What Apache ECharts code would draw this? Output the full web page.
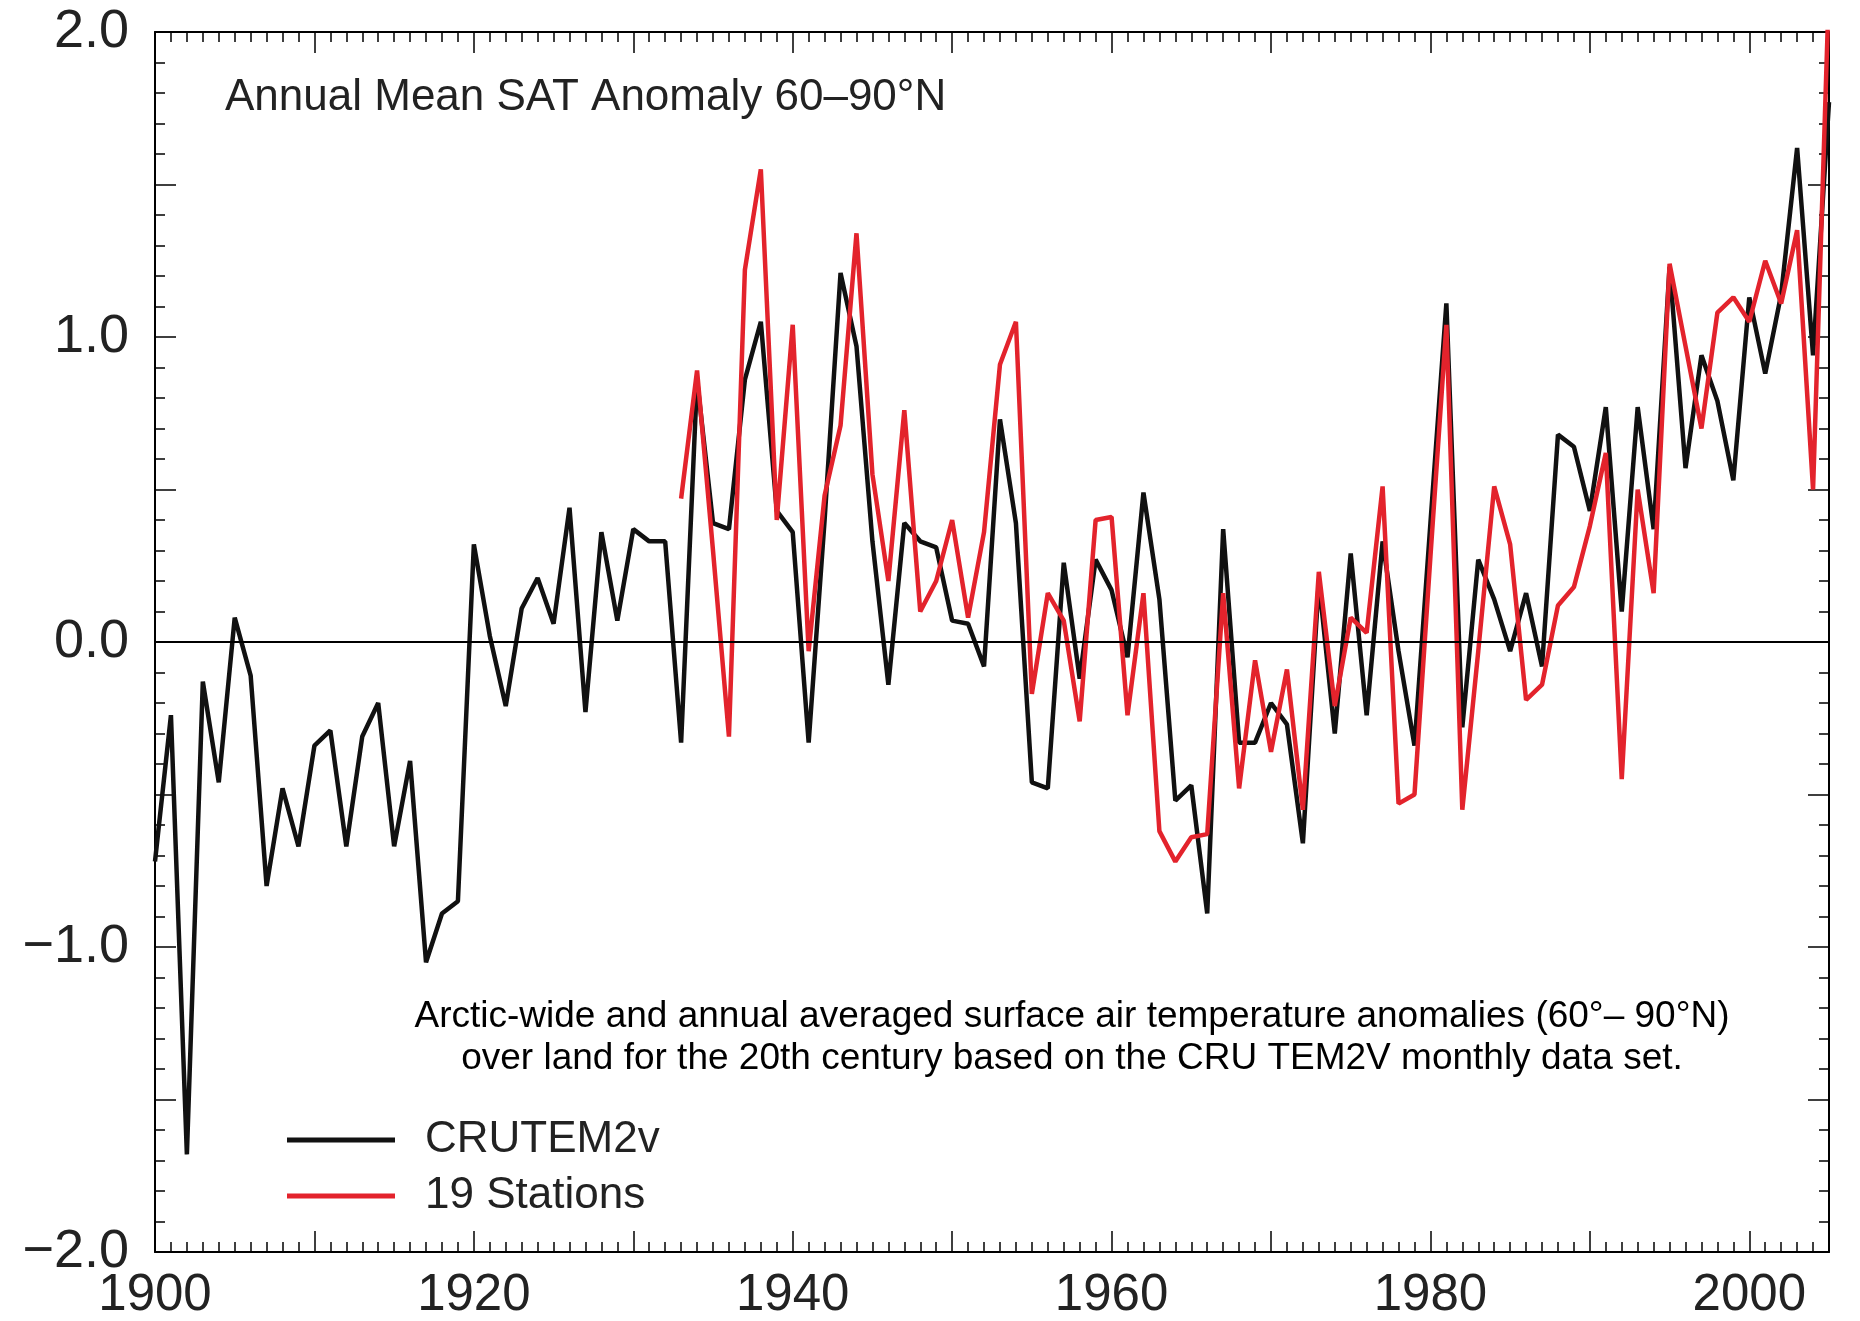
<!DOCTYPE html>
<html>
<head>
<meta charset="utf-8">
<script src="https://cdn.jsdelivr.net/npm/echarts/dist/echarts.min.js"></script>
<style>html,body{margin:0;padding:0;background:#fff;}#c{width:1860px;height:1321px;}</style>
</head>
<body>
<div id="c"></div>
<script>
const blackStartYear = 1900;
const crutem2v = [
  -0.72, -0.24, -1.68, -0.13, -0.46, 0.08, -0.11, -0.80, -0.48, -0.67,
  -0.34, -0.29, -0.67, -0.31, -0.20, -0.67, -0.39, -1.05, -0.89, -0.85,
  0.32, 0.02, -0.21, 0.11, 0.21, 0.06, 0.44, -0.23, 0.36, 0.07,
  0.37, 0.33, 0.33, -0.33, 0.86, 0.39, 0.37, 0.86, 1.05, 0.43,
  0.36, -0.33, 0.40, 1.21, 0.97, 0.33, -0.14, 0.39, 0.33, 0.31,
  0.07, 0.06, -0.08, 0.73, 0.39, -0.46, -0.48, 0.26, -0.12, 0.27,
  0.17, -0.05, 0.49, 0.14, -0.52, -0.47, -0.89, 0.37, -0.33, -0.33,
  -0.20, -0.27, -0.66, 0.20, -0.30, 0.29, -0.24, 0.33, -0.03, -0.34,
  0.39, 1.11, -0.28, 0.27, 0.14, -0.03, 0.16, -0.08, 0.68, 0.64,
  0.43, 0.77, 0.10, 0.77, 0.37, 1.23, 0.57, 0.94, 0.79, 0.53,
  1.13, 0.88, 1.14, 1.62, 0.94, 1.77
];
const redStartYear = 1933;
const stations19 = [
  0.47, 0.89, 0.30, -0.31, 1.22, 1.55, 0.40,
  1.04, -0.03, 0.48, 0.71, 1.34, 0.55, 0.20, 0.76, 0.10, 0.20,
  0.40, 0.08, 0.36, 0.91, 1.05, -0.17, 0.16, 0.07, -0.26, 0.40,
  0.41, -0.24, 0.16, -0.62, -0.72, -0.64, -0.63, 0.16, -0.48, -0.06,
  -0.36, -0.09, -0.55, 0.23, -0.21, 0.08, 0.03, 0.51, -0.53, -0.50,
  0.28, 1.04, -0.55, -0.03, 0.51, 0.32, -0.19, -0.14, 0.12, 0.18,
  0.38, 0.62, -0.45, 0.50, 0.16, 1.24, 0.97, 0.70, 1.08, 1.13,
  1.05, 1.25, 1.11, 1.35, 0.50, 2.15
];
const seriesNames = ['CRUTEM2v', '19 Stations'];
const xLabelYears = [1900, 1920, 1940, 1960, 1980, 2000];
const yLabelValues = [-2, -1, 0, 1, 2];
const panelTitle = 'Annual Mean SAT Anomaly 60–90°N';
const noteLines = [
  'Arctic-wide and annual averaged surface air temperature anomalies (60°– 90°N)',
  'over land for the 20th century based on the CRU TEM2V monthly data set.'
];

const toPairs = (start, vals) => vals.map((v, i) => [start + i, v]);
const FONT = "'Liberation Sans', Arial, Helvetica, sans-serif";
const chart = echarts.init(document.getElementById('c'), null, {renderer: 'canvas'});

const baseX = (pos, interval, len, showLabel, showLine) => ({
  type: 'value', position: pos, min: 1900, max: 2005, interval: interval,
  axisLine: {show: showLine, onZero: false, lineStyle: {color: '#000', width: 2}},
  axisTick: {show: true, inside: true, length: len, lineStyle: {color: '#000', width: 1.5}},
  axisLabel: {show: showLabel, fontSize: 51, fontFamily: FONT, color: '#222', margin: 18,
    formatter: v => xLabelYears.indexOf(v) >= 0 ? String(v) : ''},
  splitLine: {show: false}
});
const baseY = (pos, showLabel) => ({
  type: 'value', position: pos, min: -2, max: 2, interval: 0.5,
  axisLine: {show: true, onZero: false, lineStyle: {color: '#000', width: 2}},
  axisTick: {show: true, inside: true, length: 21, lineStyle: {color: '#000', width: 1.5}},
  minorTick: {show: true, splitNumber: 5, length: 10, lineStyle: {color: '#000', width: 1.5}},
  axisLabel: {show: showLabel, fontSize: 54, fontFamily: FONT, color: '#222', margin: 26,
    formatter: v => yLabelValues.indexOf(v) >= 0 ? (v < 0 ? '−' : '') + Math.abs(v).toFixed(1) : ''},
  splitLine: {show: false}
});

chart.setOption({
  backgroundColor: '#fff',
  animation: false,
  grid: {left: 155, right: 31, top: 32, bottom: 67, containLabel: false},
  title: {text: panelTitle, left: 225, top: 76, padding: 0,
    textStyle: {fontSize: 44, fontWeight: 'normal', fontFamily: FONT, color: '#222'}},
  legend: {
    orient: 'vertical', left: 287, top: 1116, padding: 0, itemGap: 8,
    itemWidth: 108, itemHeight: 5, icon: 'rect',
    data: seriesNames,
    textStyle: {fontSize: 44, fontFamily: FONT, color: '#222', lineHeight: 48, padding: [0, 0, 0, 25]}
  },
  xAxis: [
    baseX('bottom', 10, 21, true, true),
    baseX('bottom', 1, 10, false, false),
    baseX('top', 10, 21, false, true),
    baseX('top', 1, 10, false, false)
  ],
  yAxis: [baseY('left', true), baseY('right', false)],
  graphic: noteLines.map((t, i) => ({
    type: 'text', silent: true,
    style: {text: t, x: 1072, y: 1017 + i * 42, textAlign: 'center', textVerticalAlign: 'middle',
      font: '37px ' + FONT, fill: '#000'}
  })),
  series: [
    {name: seriesNames[0], type: 'line', xAxisIndex: 0, yAxisIndex: 0,
     data: toPairs(blackStartYear, crutem2v), showSymbol: false, symbol: 'none', clip: true,
     color: '#111', lineStyle: {color: '#111', width: 4.5}, z: 3,
     markLine: {silent: true, symbol: 'none', label: {show: false},
       lineStyle: {color: '#000', width: 2, type: 'solid'}, data: [{yAxis: 0}]}},
    {name: seriesNames[1], type: 'line', xAxisIndex: 0, yAxisIndex: 0,
     data: toPairs(redStartYear, stations19), showSymbol: false, symbol: 'none', clip: true,
     color: '#e3232c', lineStyle: {color: '#e3232c', width: 4.5}, z: 4}
  ]
});
</script>
</body>
</html>
